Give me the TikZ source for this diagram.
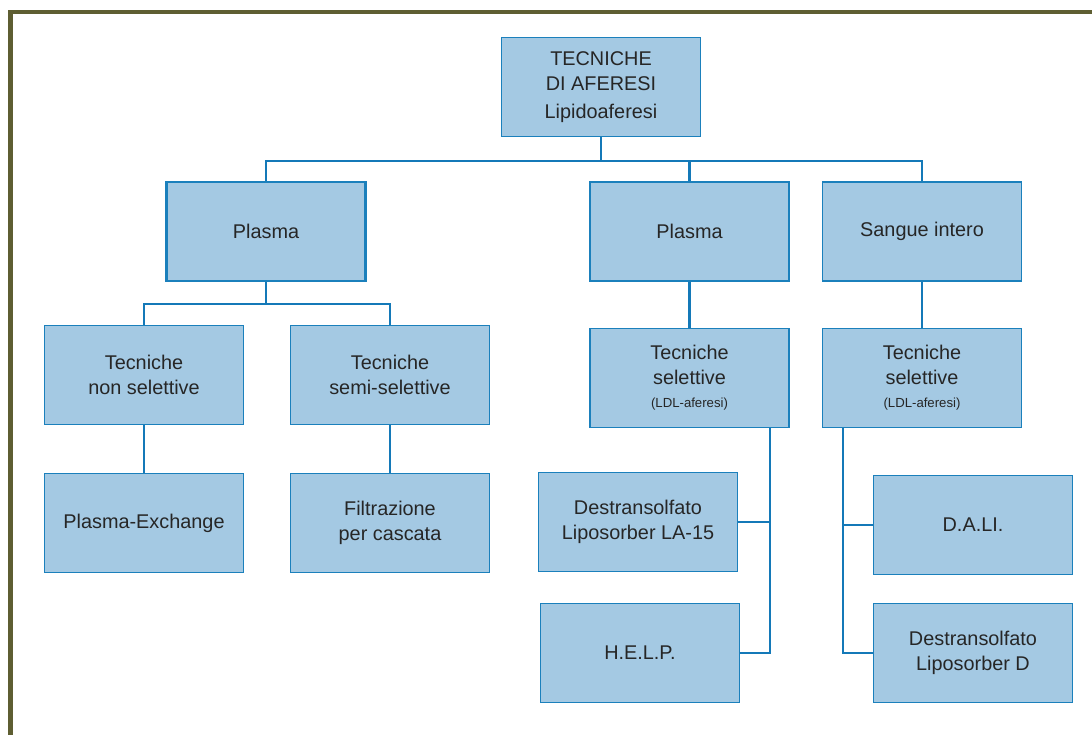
\documentclass[tikz,border=0pt]{standalone}
\usepackage{fontspec}
\setmainfont{Liberation Sans}
\usepackage{tikz}
\usetikzlibrary{positioning}
\definecolor{boxfill}{HTML}{A4C9E3}
\definecolor{boxline}{HTML}{1B80BC}
\definecolor{linkblue}{HTML}{1479B8}
\definecolor{frameolive}{HTML}{5E5E32}
\definecolor{txtgray}{HTML}{262626}

\begin{document}
\begin{tikzpicture}[
  box/.style={draw=boxline, fill=boxfill, line width=0.6pt, minimum width=3.98cm, minimum height=1.98cm,
    text=txtgray, align=center, font=\fontsize{11.3}{14.2}\selectfont},
  link/.style={draw=linkblue, line width=1.4pt},
  small/.style={font=\fontsize{7.5}{9}\selectfont}
]
\useasboundingbox (0,0) rectangle (21.84,14.7);
% --- frame ---
\draw[frameolive, line width=2.5pt] (0.21,0) -- (0.21,14.46) -- (21.84,14.46);
% --- root ---
\node[box] (root) at (12.02,12.96) {TECNICHE\\DI AFERESI\\[2pt]Lipidoaferesi};
% --- first level ---
\node[box, line width=1.5pt] (plasmaA) at (5.32,10.07) {Plasma};
\node[box] (plasmaB) at (13.79,10.07) {Plasma};
\node[box] (sangue) at (18.44,10.07) {Sangue intero};
% --- second level ---
\node[box] (nonsel) at (2.88,7.2) {Tecniche\\non selettive};
\node[box] (semisel) at (7.8,7.2) {Tecniche\\semi-selettive};
\node[box] (selA) at (13.79,7.14) {Tecniche\\selettive\\[-1pt]{\fontsize{7.5}{9}\selectfont (LDL-aferesi)}};
\node[box] (selB) at (18.44,7.14) {Tecniche\\selettive\\[-1pt]{\fontsize{7.5}{9}\selectfont (LDL-aferesi)}};
% --- methods ---
\node[box] (exch) at (2.88,4.24) {Plasma-Exchange};
\node[box] (filtr) at (7.8,4.24) {Filtrazione\\per cascata};
\node[box] (la15) at (12.76,4.26) {Destransolfato\\Liposorber LA-15};
\node[box] (help) at (12.8,1.64) {H.E.L.P.};
\node[box] (dali) at (19.46,4.2) {D.A.LI.};
\node[box] (lipoD) at (19.46,1.64) {Destransolfato\\Liposorber D};
% --- connectors ---
\coordinate (busA) at (12.02,11.48);
\draw[link] (root) -- (busA);
\draw[link] (plasmaA.north) |- (busA) -| (sangue.north);
\draw[link] (plasmaB.north) -- (plasmaB.north |- busA);
\coordinate (busB) at (5.32,8.62);
\draw[link] (plasmaA) -- (busB);
\draw[link] (nonsel.north) |- (busB) -| (semisel.north);
\draw[link] (nonsel) -- (exch);
\draw[link] (semisel) -- (filtr);
\draw[link] (plasmaB) -- (selA);
\draw[link] (sangue) -- (selB);
\coordinate (stemA) at (15.4,6.14);
\draw[link] (stemA) |- (help.east);
\draw[link] (la15.east) -- (la15.east -| stemA);
\coordinate (stemB) at (16.86,6.14);
\draw[link] (stemB) |- (lipoD.west);
\draw[link] (dali.west) -- (dali.west -| stemB);
\end{tikzpicture}
\end{document}
